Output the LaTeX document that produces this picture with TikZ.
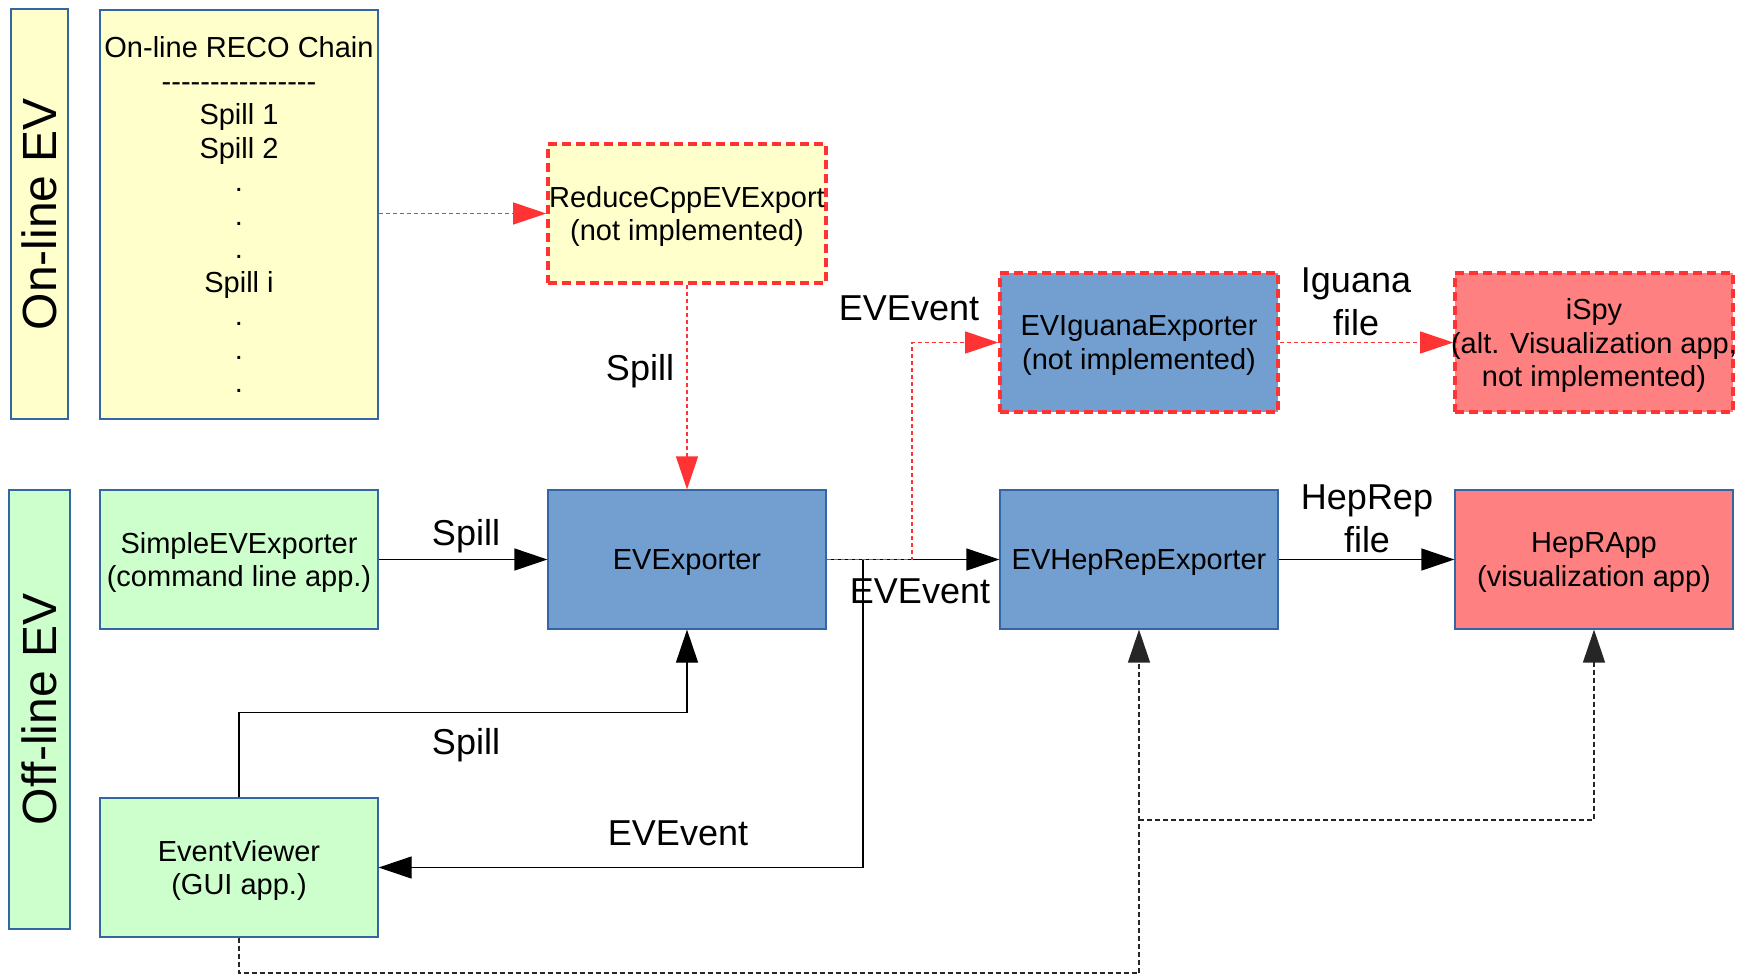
\documentclass[tikz,border=0pt]{standalone}
\usepackage{fontspec}
\setmainfont{Liberation Sans}
\usetikzlibrary{arrows.meta}
\definecolor{boxline}{HTML}{3465A4}
\definecolor{recoyellow}{HTML}{FFFFCC}
\definecolor{offgreen}{HTML}{CCFFCC}
\definecolor{exblue}{HTML}{729FCF}
\definecolor{apppink}{HTML}{FF8080}
\definecolor{todored}{HTML}{FF3333}

\begin{document}
\begin{tikzpicture}[x=1pt, y=-1pt, >={Triangle[length=33pt,width=22pt]}]
  \tikzset{box/.style={draw=boxline, line width=1.2pt, minimum width=278pt,
      minimum height=139pt, inner sep=0pt, align=center, text depth=0pt,
      font=\fontsize{29}{33.5}\selectfont}}
  \tikzset{todo/.style={draw=todored, line width=3.6pt, dash pattern=on 9pt off 5pt}}
  \tikzset{side/.style={draw=boxline, line width=1.2pt, rotate=90, inner sep=0pt,
      font=\fontsize{48}{48}\selectfont}}
  \tikzset{lbl/.style={inner sep=0pt, align=center, font=\fontsize{36}{43}\selectfont}}
  \tikzset{conn/.style={->, line width=1.2pt}}
  \tikzset{redconn/.style={->, draw=todored, line width=1.2pt,
      dash pattern=on 4pt off 3pt}}
  \tikzset{dotconn/.style={->, draw=black!85, line width=1.4pt,
      dash pattern=on 5pt off 3pt}}

  \useasboundingbox (0,0) rectangle (1742,975);

  \node[side, fill=recoyellow, minimum width=410pt, minimum height=57pt] (online) at (39.5,214) {On-line EV};
  \node[side, fill=offgreen, minimum width=439pt, minimum height=61pt] (offline) at (39.5,709.5) {Off-line EV};

  \node[box, fill=recoyellow, minimum height=409pt] (reco) at (239,214.5)
    {On-line RECO Chain\\-{}-{}-{}-{}-{}-{}-{}-{}-{}-{}-{}-{}-{}-{}-{}-\\Spill 1\\Spill 2\\.\\.\\.\\Spill i\\.\\.\\.};
  \node[box, todo, fill=recoyellow] (reduce) at (687,213.5) {ReduceCppEVExport\\(not implemented)};
  \node[box, todo, fill=exblue] (iguana) at (1139,342.5) {EVIguanaExporter\\(not implemented)};
  \node[box, todo, fill=apppink] (ispy) at (1594,342.5)
    {iSpy\\\makebox[270pt]{(alt. Visualization app,}\\not implemented)};

  \node[box, fill=offgreen] (simple) at (239,559.5) {SimpleEVExporter\\(command line app.)};
  \node[box, fill=exblue] (evexp) at (687,559.5) {EVExporter};
  \node[box, fill=exblue] (hepexp) at (1139,559.5) {EVHepRepExporter};
  \node[box, fill=apppink] (heprapp) at (1594,559.5) {HepRApp\\(visualization app)};
  \node[box, fill=offgreen] (viewer) at (239,867.5) {EventViewer\\(GUI app.)};

  \coordinate (jIg) at (912,559.5);
  \coordinate (jEv) at (863,559.5);
  \coordinate (lvl) at (0,820);

  \draw[redconn] (reco.east |- reduce.west) -- (reduce.west);
  \draw[redconn] (reduce.south) -- (evexp.north);
  \draw[conn] (simple.east) -- (evexp.west);
  \draw[conn] (evexp.east) -- (hepexp.west);
  \draw[redconn] (evexp.east) -- (jIg) |- (iguana.west);
  \draw[redconn] (iguana.east) -- (ispy.west);
  \draw[conn] (hepexp.east) -- (heprapp.west);
  \draw[conn] (jEv) |- (viewer.east);
  \draw[conn] (viewer.north) -- ++(0,-85) -| (evexp.south);
  \draw[dotconn] (viewer.south) -- ++(0,35.5) -| (hepexp.south);
  \draw[dotconn] (hepexp.south |- lvl) -| (heprapp.south);

  \node[lbl] (spillA) at (640,371) {Spill};
  \node[lbl] (spillB) at (466,536) {Spill};
  \node[lbl] (spillC) at (466,745) {Spill};
  \node[lbl] (eventA) at (909,308) {EVEvent};
  \node[lbl] (eventB) at (920,591) {EVEvent};
  \node[lbl] (eventC) at (678,833) {EVEvent};
  \node[lbl] (iguanafile) at (1356,302) {Iguana\\file};
  \node[lbl] (hepfile) at (1367,519) {HepRep\\file};
\end{tikzpicture}
\end{document}
